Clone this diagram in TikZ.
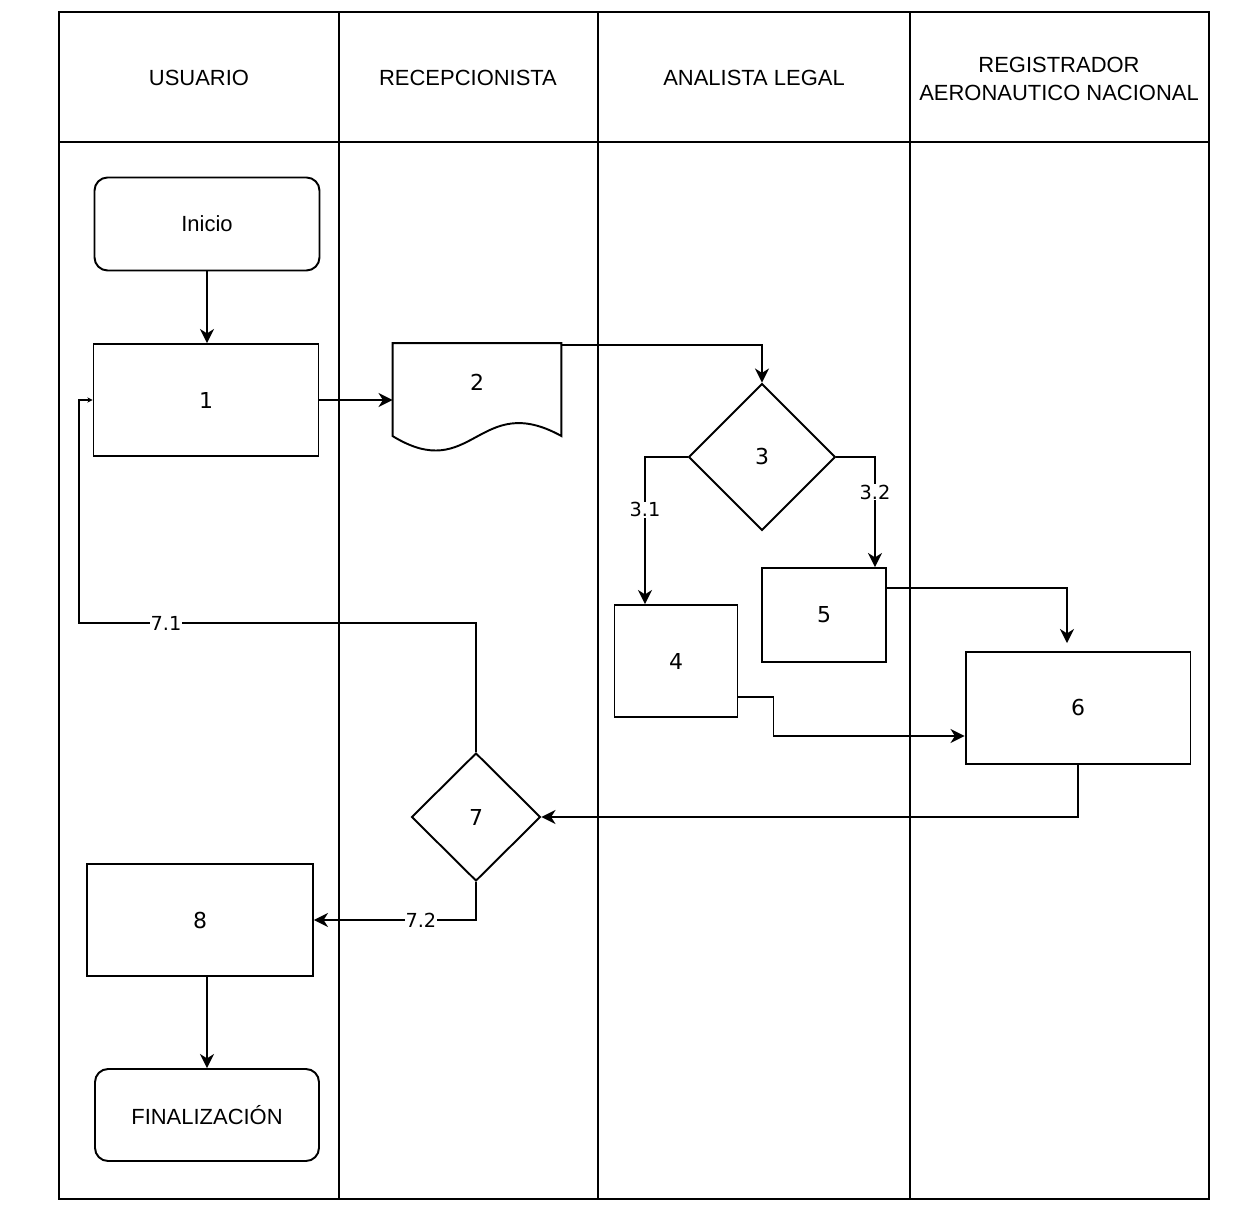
\documentclass[tikz,border=0pt]{standalone}
\usepackage{fontspec}
\setmainfont{Liberation Sans}
\newfontfamily\digitfont{DejaVu Sans}
\usetikzlibrary{shapes,arrows.meta,positioning,calc}

\tikzset{
  txt/.style={font=\fontsize{12.5}{16}\selectfont},
  num/.style={font=\digitfont\fontsize{12.5}{15}\selectfont},
  box/.style={draw, rectangle, num},
  term/.style={draw, rectangle, rounded corners=0.26cm, txt},
  decision/.style={draw, diamond, inner sep=0pt, num},
  edgelabel/.style={fill=white, inner sep=0.5pt, font=\digitfont\fontsize{11}{12}\selectfont},
}

\begin{document}
\begin{tikzpicture}[x=0.02cm, y=-0.02cm, line width=1.1pt, >={Stealth[length=8pt, width=8pt, inset=2.5pt]}]
    \useasboundingbox (0,0) rectangle (1256,1222);

    \draw (59,12) rectangle (1209,1199);
    \draw (59,142) -- (1209,142);
    \foreach \xx in {339, 598, 910}
        \draw (\xx,12) -- (\xx,1199);

    \node[txt] (usuario) at (199,78) {USUARIO};
    \node[txt] (recepcionista) at (468,78) {RECEPCIONISTA};
    \node[txt] (analista) at (754,78) {ANALISTA LEGAL};
    \node[txt, align=center] (registrador) at (1059,79) {REGISTRADOR\\AERONAUTICO NACIONAL};

    \node[term, minimum width=4.5cm, minimum height=1.86cm] (inicio) at (207,224) {Inicio};
    \node[box, minimum width=4.5cm, minimum height=2.24cm] (b1) at (206,400) {1};
    \node[minimum width=3.34cm, minimum height=2.2cm, label={[num, yshift=0.34cm]center:2}] (d2) at (477,399) {};
    \draw (d2.north west) -- (d2.north east) -- ($(d2.north east)+(0,93)$)
        .. controls ($(d2.north east)+(-83,47)$) and ($(d2.north west)+(80,142)$) .. ($(d2.north west)+(0,93)$) -- cycle;
    \node[decision, minimum width=2.94cm, minimum height=2.94cm] (d3) at (762,457) {3};
    \node[box, minimum width=2.46cm, minimum height=2.24cm] (b4) at (676,661) {4};
    \node[box, minimum width=2.48cm, minimum height=1.88cm] (b5) at (824,615) {5};
    \node[box, minimum width=4.5cm, minimum height=2.24cm] (b6) at (1078,708) {6};
    \node[decision, minimum width=2.58cm, minimum height=2.56cm] (d7) at (476,817) {7};
    \node[box, minimum width=4.52cm, minimum height=2.24cm] (b8) at (200,920) {8};
    \node[term, minimum width=4.48cm, minimum height=1.84cm] (fin) at (207,1115) {FINALIZACIÓN};

    \draw[->] (inicio.south) -- (inicio.south |- b1.north);
    \draw[->] (b1.east) -- (b1.east -| d2.west);
    \draw[->] ($(d2.north east)+(0,2)$) -| (d3.north);
    \draw[->] (d3.west) -| ($(b4.north)+(-31,0)$) node[edgelabel, pos=0.68] {3.1};
    \draw[->] (d3.east) -| ($(b5.north)+(51,0)$) node[edgelabel, pos=0.66] {3.2};
    \draw[->, shorten >=0.16cm] ($(b5.east)+(0,-27)$) -| ($(b6.north)+(-11,0)$);
    \draw[->] ($(b4.east)+(0,36)$) -- ++(35,0) |- ($(b6.west)+(0,28)$);
    \draw[->] (b6.south) |- (d7.east);
    \draw[-{Stealth[length=3pt, width=3pt]}] (d7.north) |- ($(b1.west)+(-14,223)$) node[edgelabel, pos=0.89] {7.1} |- (b1.west);
    \draw[->] (d7.south) |- (b8.east) node[edgelabel, pos=0.67] {7.2};
    \draw[->] (b8.south -| fin.north) -- (fin.north);
\end{tikzpicture}
\end{document}
